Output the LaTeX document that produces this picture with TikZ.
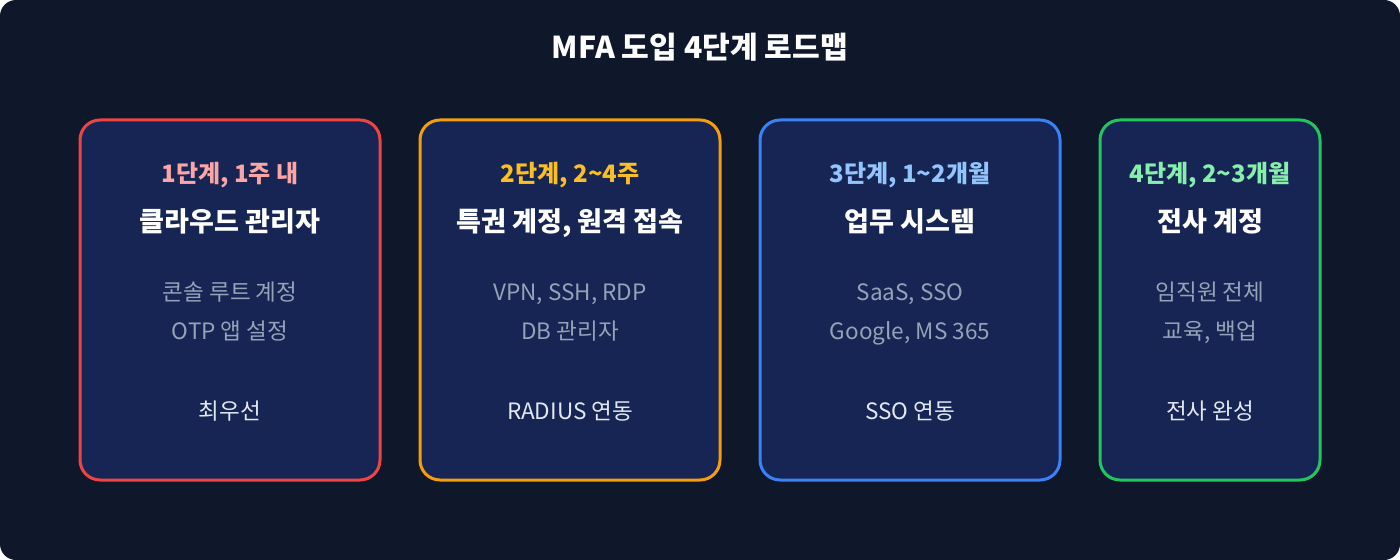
\documentclass[tikz,border=0pt]{standalone}
\usepackage{fontspec}
\setmainfont{Noto Sans CJK KR}
\definecolor{bgdark}{HTML}{0F172A}
\definecolor{cardfill}{HTML}{172554}
\definecolor{redline}{HTML}{EF4444}
\definecolor{amberline}{HTML}{F59E0B}
\definecolor{blueline}{HTML}{3B82F6}
\definecolor{greenline}{HTML}{22C55E}
\definecolor{redtext}{HTML}{FCA5A5}
\definecolor{ambertext}{HTML}{FBBF24}
\definecolor{bluetext}{HTML}{93C5FD}
\definecolor{greentext}{HTML}{86EFAC}
\definecolor{graytext}{HTML}{94A3B8}
\definecolor{softwhite}{HTML}{E2E8F0}
\tikzset{
  card/.style={line width=2.25pt, fill=cardfill, rounded corners=15pt},
  phase/.style={anchor=base, inner sep=0pt, font=\fontsize{18}{21}\selectfont\bfseries},
  headline/.style={anchor=base, inner sep=0pt, text=white, font=\fontsize{20.3}{24}\selectfont\bfseries},
  detail/.style={anchor=base, inner sep=0pt, text=graytext, font=\fontsize{16.9}{20}\selectfont},
  result/.style={anchor=base, inner sep=0pt, text=softwhite, font=\fontsize{16.9}{20}\selectfont},
}
\begin{document}
\begin{tikzpicture}[x=0.75pt, y=-0.75pt]
  \useasboundingbox (0,0) rectangle (1400,560);
  \fill[bgdark, rounded corners=12pt] (0,0) rectangle (1400,560);
  \node[anchor=base, inner sep=0pt, text=white, font=\fontsize{22.6}{26}\selectfont\bfseries] (title) at (700,59) {MFA 도입 4단계 로드맵};

  % cards
  \draw[card, draw=redline]   (80,120)   rectangle (380,480);
  \draw[card, draw=amberline] (420,120)  rectangle (720,480);
  \draw[card, draw=blueline]  (760,120)  rectangle (1060,480);
  \draw[card, draw=greenline] (1100,120) rectangle (1320,480);

  % stage 1
  \node[phase, text=redtext] (p1) at (230,182) {1단계, 1주 내};
  \node[headline] (h1) at (230,231) {클라우드 관리자};
  \node[detail] (d1a) at (230,300) {콘솔 루트 계정};
  \node[detail] (d1b) at (230,339) {OTP 앱 설정};
  \node[result] (r1) at (230,419) {최우선};

  % stage 2
  \node[phase, text=ambertext] (p2) at (570,182) {2단계, 2\char`~4주};
  \node[headline] (h2) at (570,231) {특권 계정, 원격 접속};
  \node[detail] (d2a) at (570,300) {VPN, SSH, RDP};
  \node[detail] (d2b) at (570,339) {DB 관리자};
  \node[result] (r2) at (570,419) {RADIUS 연동};

  % stage 3
  \node[phase, text=bluetext] (p3) at (910,182) {3단계, 1\char`~2개월};
  \node[headline] (h3) at (910,231) {업무 시스템};
  \node[detail] (d3a) at (910,300) {SaaS, SSO};
  \node[detail] (d3b) at (910,339) {Google, MS 365};
  \node[result] (r3) at (910,419) {SSO 연동};

  % stage 4
  \node[phase, text=greentext] (p4) at (1210,182) {4단계, 2\char`~3개월};
  \node[headline] (h4) at (1210,231) {전사 계정};
  \node[detail] (d4a) at (1210,300) {임직원 전체};
  \node[detail] (d4b) at (1210,339) {교육, 백업};
  \node[result] (r4) at (1210,419) {전사 완성};
\end{tikzpicture}
\end{document}
